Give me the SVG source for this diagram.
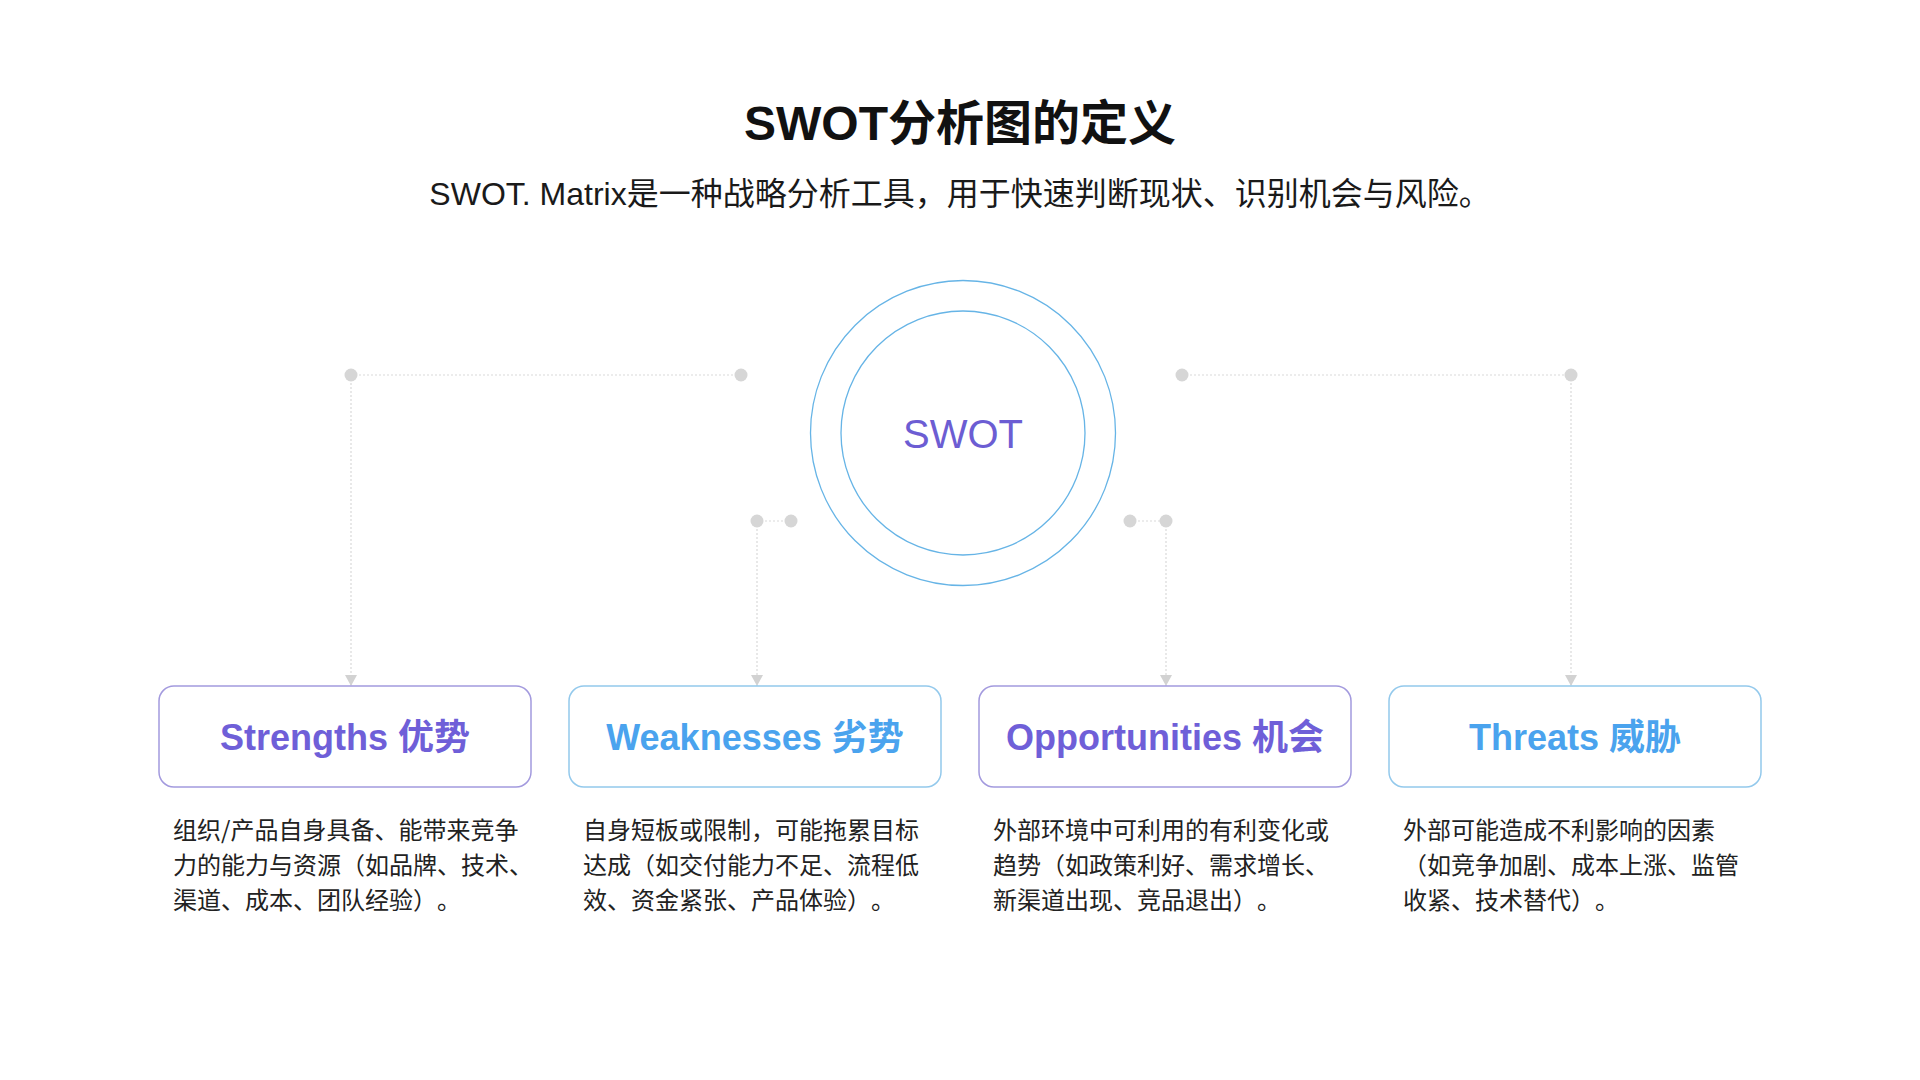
<svg xmlns="http://www.w3.org/2000/svg" width="1920" height="1080" viewBox="0 0 1920 1080">
  <defs>
    <marker id="arr" markerUnits="userSpaceOnUse" markerWidth="12" markerHeight="12" refX="11" refY="6" orient="auto">
      <path d="M0,0 L11,6 L0,12 z" fill="#d2d2d2"/>
    </marker>
  </defs>
  <style>
    text{text-spacing-trim:space-all;}
    .title{font-family:"Liberation Sans","Noto Sans CJK SC",sans-serif;font-weight:700;font-size:48px;fill:#111;}
    .sub{font-family:"Liberation Sans","Noto Sans CJK SC",sans-serif;font-size:32px;fill:#1a1a1a;}
    .center{font-family:"Liberation Sans","Noto Sans CJK SC",sans-serif;font-size:40px;fill:#6c5dd3;}
    .ring{fill:none;stroke:#66b4e6;stroke-width:1.3;}
    .box{fill:#fff;stroke-width:1.5;}
    .bp{stroke:#a39ade;}
    .bb{stroke:#93c9ec;}
    .lbl{font-family:"Liberation Sans","Noto Sans CJK SC",sans-serif;font-weight:700;font-size:36px;}
    .lp{fill:#6f5fd8;}
    .lb{fill:#4aa3ee;}
    .desc{font-family:"Noto Sans CJK SC","Liberation Sans",sans-serif;font-size:24px;fill:#222;}
    .conn{fill:none;stroke:#d9d9d9;stroke-width:1.2;stroke-dasharray:2 2;}
    .dot{fill:#d6d6d6;}
  </style>
  <rect width="1920" height="1080" fill="#fff"/>

  <g id="title">
    <text class="title" x="960" y="140" text-anchor="middle">SWOT分析图的定义</text>
    <text class="sub" x="960" y="205" text-anchor="middle">SWOT. Matrix是一种战略分析工具，用于快速判断现状、识别机会与风险。</text>
  </g>

  <g id="connectors">
    <path class="conn" d="M351,375 H741"/>
    <path class="conn" d="M351,375 V686" marker-end="url(#arr)"/>
    <path class="conn" d="M757,521 H791"/>
    <path class="conn" d="M757,521 V686" marker-end="url(#arr)"/>
    <path class="conn" d="M1130,521 H1166"/>
    <path class="conn" d="M1166,521 V686" marker-end="url(#arr)"/>
    <path class="conn" d="M1182,375 H1571"/>
    <path class="conn" d="M1571,375 V686" marker-end="url(#arr)"/>
    <circle class="dot" cx="351" cy="375" r="6.5"/>
    <circle class="dot" cx="741" cy="375" r="6.5"/>
    <circle class="dot" cx="757" cy="521" r="6.5"/>
    <circle class="dot" cx="791" cy="521" r="6.5"/>
    <circle class="dot" cx="1130" cy="521" r="6.5"/>
    <circle class="dot" cx="1166" cy="521" r="6.5"/>
    <circle class="dot" cx="1182" cy="375" r="6.5"/>
    <circle class="dot" cx="1571" cy="375" r="6.5"/>
  </g>

  <g id="swot-core">
    <circle class="ring" cx="963" cy="433" r="152.5"/>
    <circle class="ring" cx="963" cy="433" r="122"/>
    <text class="center" x="963" y="448" text-anchor="middle">SWOT</text>
  </g>

  <g id="strengths">
    <rect class="box bp" x="159" y="686" width="372" height="101" rx="15"/>
    <text class="lbl lp" x="345" y="750" text-anchor="middle">Strengths 优势</text>
    <text class="desc" x="173">
      <tspan x="173" y="839">组织/产品自身具备、能带来竞争</tspan>
      <tspan x="173" y="874">力的能力与资源（如品牌、技术、</tspan>
      <tspan x="173" y="909">渠道、成本、团队经验）。</tspan>
    </text>
  </g>

  <g id="weaknesses">
    <rect class="box bb" x="569" y="686" width="372" height="101" rx="15"/>
    <text class="lbl lb" x="755" y="750" text-anchor="middle">Weaknesses 劣势</text>
    <text class="desc" x="583">
      <tspan x="583" y="839">自身短板或限制，可能拖累目标</tspan>
      <tspan x="583" y="874">达成（如交付能力不足、流程低</tspan>
      <tspan x="583" y="909">效、资金紧张、产品体验）。</tspan>
    </text>
  </g>

  <g id="opportunities">
    <rect class="box bp" x="979" y="686" width="372" height="101" rx="15"/>
    <text class="lbl lp" x="1165" y="750" text-anchor="middle">Opportunities 机会</text>
    <text class="desc" x="993">
      <tspan x="993" y="839">外部环境中可利用的有利变化或</tspan>
      <tspan x="993" y="874">趋势（如政策利好、需求增长、</tspan>
      <tspan x="993" y="909">新渠道出现、竞品退出）。</tspan>
    </text>
  </g>

  <g id="threats">
    <rect class="box bb" x="1389" y="686" width="372" height="101" rx="15"/>
    <text class="lbl lb" x="1575" y="750" text-anchor="middle">Threats 威胁</text>
    <text class="desc" x="1403">
      <tspan x="1403" y="839">外部可能造成不利影响的因素</tspan>
      <tspan x="1403" y="874">（如竞争加剧、成本上涨、监管</tspan>
      <tspan x="1403" y="909">收紧、技术替代）。</tspan>
    </text>
  </g>
</svg>
